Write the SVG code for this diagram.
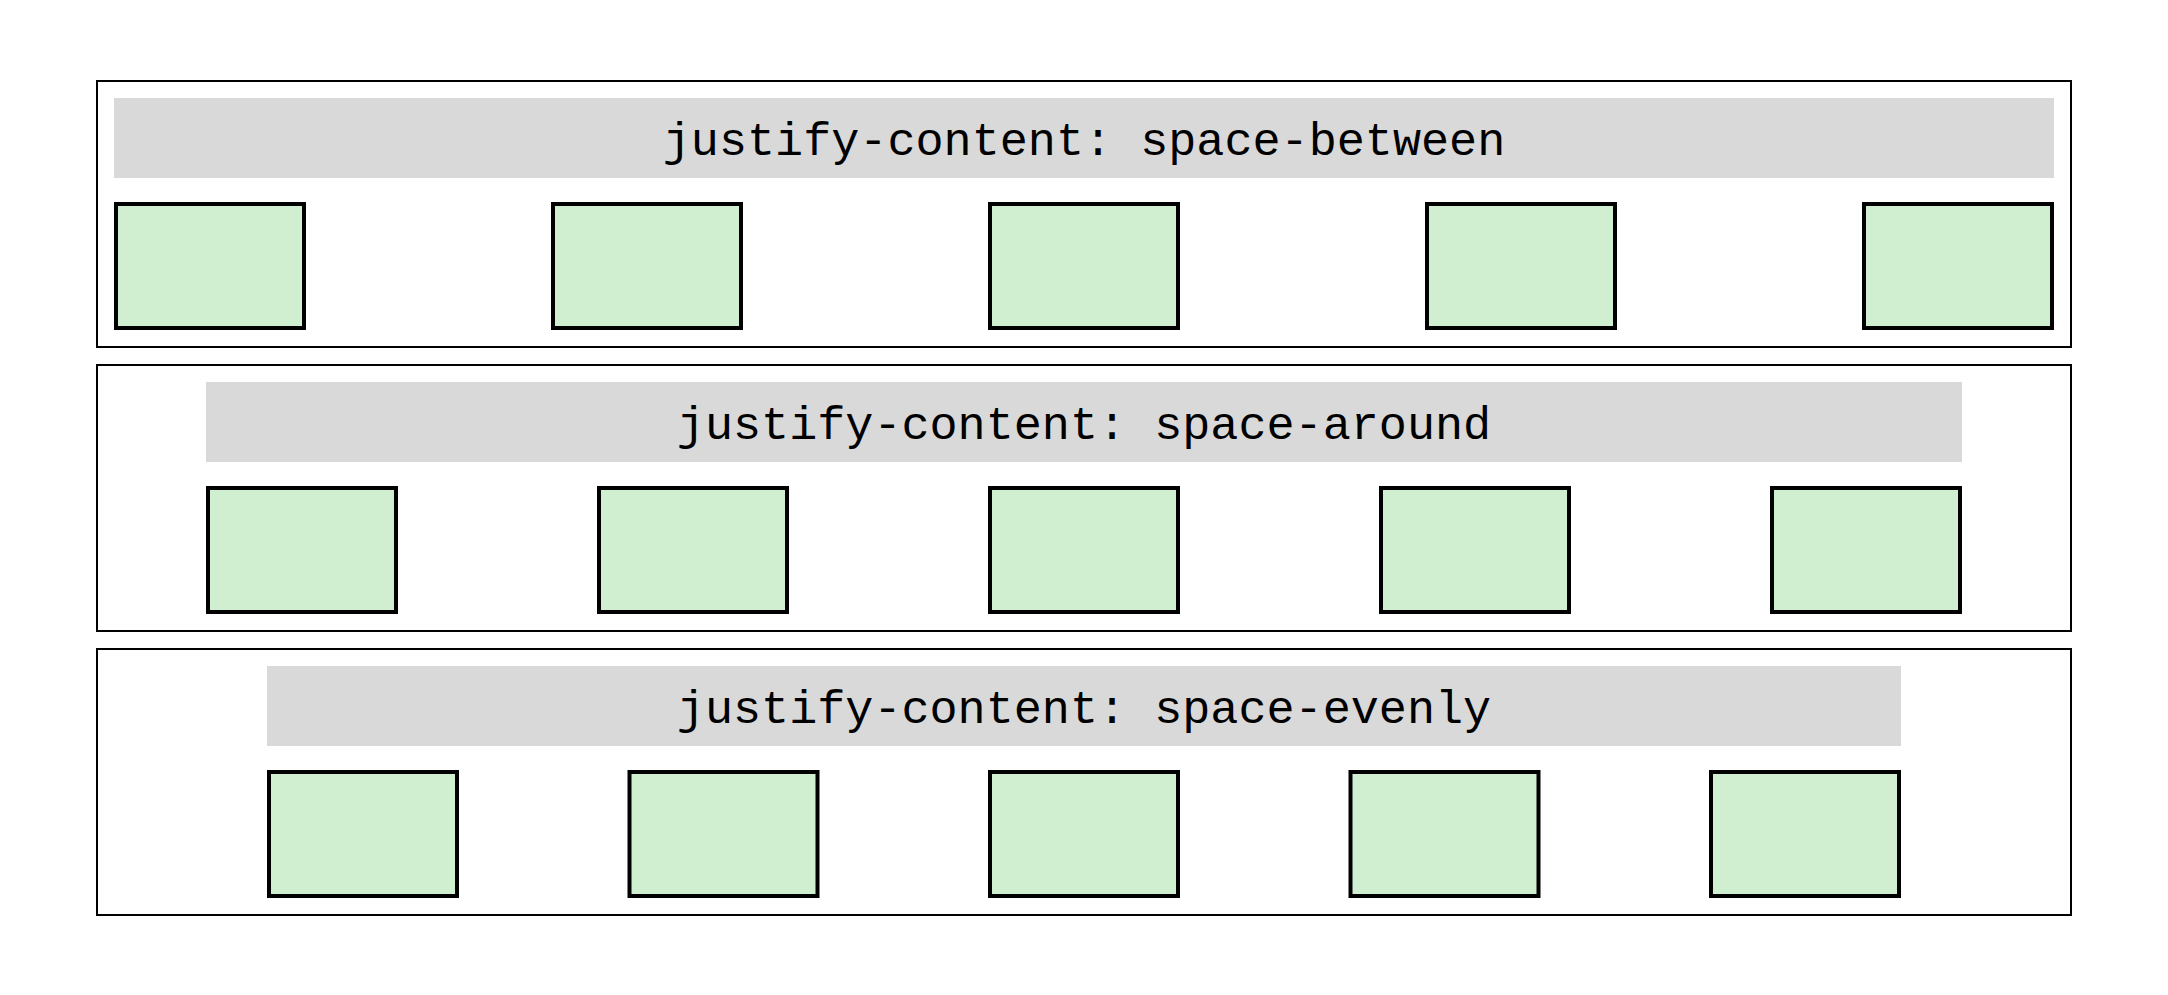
<svg xmlns="http://www.w3.org/2000/svg" width="2168" height="995" viewBox="0 0 2168 995">
<style>
.panel{fill:#ffffff;stroke:#000000;stroke-width:2}
.label{fill:#d9d9d9}
.lt{font-family:"Liberation Mono","Courier New",monospace;font-size:46.8px;fill:#000000;text-anchor:middle}
.item{fill:#d0eed0;stroke:#000000;stroke-width:4}
</style>
<rect width="2168" height="995" fill="#ffffff"/>
<g id="row-between">
<rect class="panel" x="97" y="81" width="1974" height="266"/>
<rect class="label" x="114" y="98" width="1940" height="80"/>
<text class="lt" x="1084" y="155">justify-content: space-between</text>
<rect id="b1" class="item" x="116" y="204" width="188" height="124"/>
<rect id="b2" class="item" x="553" y="204" width="188" height="124"/>
<rect id="b3" class="item" x="990" y="204" width="188" height="124"/>
<rect id="b4" class="item" x="1427" y="204" width="188" height="124"/>
<rect id="b5" class="item" x="1864" y="204" width="188" height="124"/>
</g>
<g id="row-around">
<rect class="panel" x="97" y="365" width="1974" height="266"/>
<rect class="label" x="206" y="382" width="1756" height="80"/>
<text class="lt" x="1084" y="439">justify-content: space-around</text>
<rect id="a1" class="item" x="208" y="488" width="188" height="124"/>
<rect id="a2" class="item" x="599" y="488" width="188" height="124"/>
<rect id="a3" class="item" x="990" y="488" width="188" height="124"/>
<rect id="a4" class="item" x="1381" y="488" width="188" height="124"/>
<rect id="a5" class="item" x="1772" y="488" width="188" height="124"/>
</g>
<g id="row-evenly">
<rect class="panel" x="97" y="649" width="1974" height="266"/>
<rect class="label" x="267" y="666" width="1634" height="80"/>
<text class="lt" x="1084" y="723">justify-content: space-evenly</text>
<rect id="e1" class="item" x="269" y="772" width="188" height="124"/>
<rect id="e2" class="item" x="629.5" y="772" width="188" height="124"/>
<rect id="e3" class="item" x="990" y="772" width="188" height="124"/>
<rect id="e4" class="item" x="1350.5" y="772" width="188" height="124"/>
<rect id="e5" class="item" x="1711" y="772" width="188" height="124"/>
</g>
<g id="connectors"></g>
</svg>
